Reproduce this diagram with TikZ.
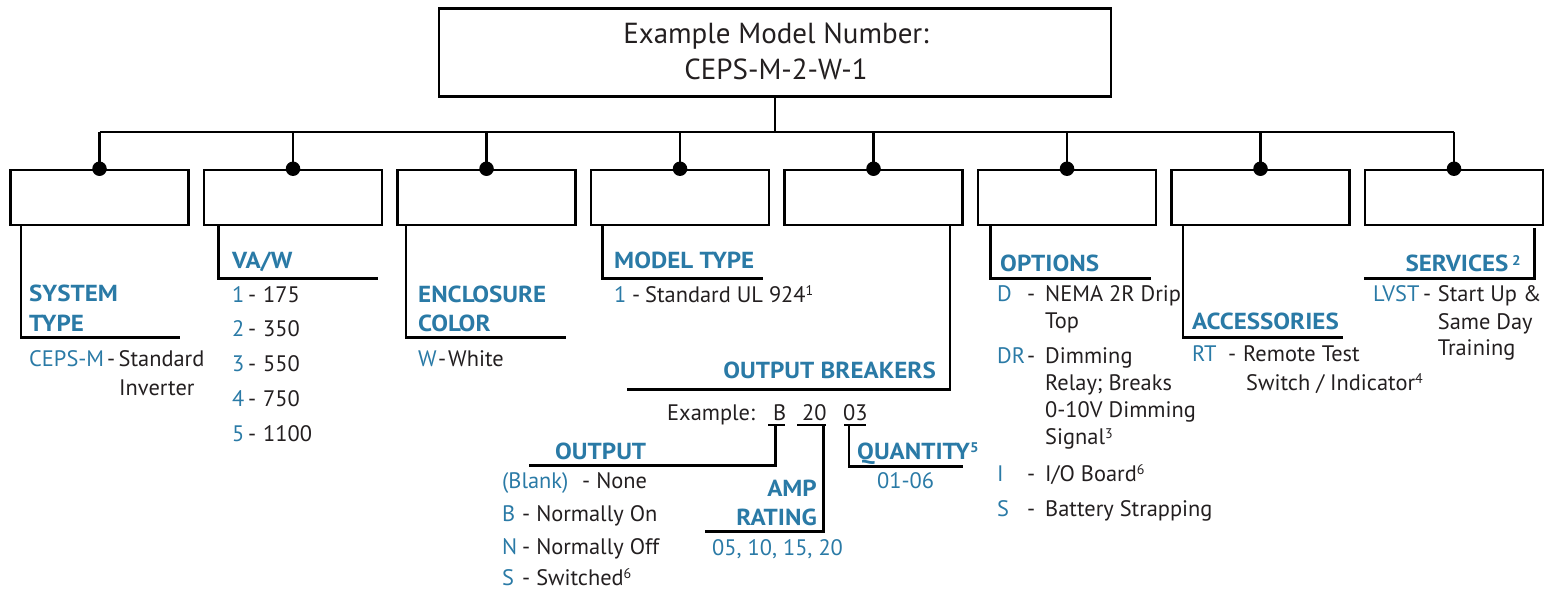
\documentclass[tikz,border=0pt]{standalone}
\usepackage{fontspec}
\setmainfont{PT Sans}
\newfontfamily\headfont[FakeStretch=1.08]{PT Sans}
\definecolor{hdblue}{HTML}{2A7AA6}
\definecolor{txdark}{HTML}{231F20}
\newcommand\bodysz{\fontsize{22.4}{27}\selectfont}
\newcommand\headsz{\fontsize{23.2}{27}\selectfont}
\newcommand\topsz{\fontsize{29}{35}\selectfont}
\newcommand\supr[1]{\raisebox{6.5pt}{\fontsize{14}{14}\selectfont #1}}
\tikzset{
  box/.style={draw=black, line width=2.5pt, minimum width=178pt, minimum height=55pt, inner sep=0pt},
  topbox/.style={draw=black, line width=2.5pt, minimum width=672pt, minimum height=88pt, inner sep=0pt},
  wire/.style={draw=black, line width=2.5pt},
  dot/.style={circle, fill=black, minimum size=14.5pt, inner sep=0pt},
  hd/.style={anchor=base west, inner sep=0pt, text=hdblue, font=\headfont\headsz\bfseries},
  hde/.style={hd, anchor=base east},
  cd/.style={anchor=base west, inner sep=0pt, text=hdblue, font=\bodysz},
  tx/.style={anchor=base west, inner sep=0pt, text=txdark, font=\bodysz},
  toptx/.style={anchor=base, inner sep=0pt, text=txdark, font=\topsz}
}
\begin{document}
\begin{tikzpicture}[x=1pt,y=-1pt]
\useasboundingbox (0,0) rectangle (1549,593);
% top box
\node[topbox] (top) at (775,52.5) {};
\node[toptx] (topl1) at (776,43.3) {Example Model Number:};
\node[toptx] (topl2) at (776,79.3) {CEPS-M-2-W-1};
% small boxes
\node[box] (b1) at (99.5,197.5) {};
\node[box] (b2) at (293,197.5) {};
\node[box] (b3) at (486.5,197.5) {};
\node[box] (b4) at (680,197.5) {};
\node[box] (b5) at (873.5,197.5) {};
\node[box] (b6) at (1067,197.5) {};
\node[box] (b7) at (1260.5,197.5) {};
\node[box] (b8) at (1454,197.5) {};
\coordinate (busy) at (0,132);
% bus
\draw[wire] (top.south) -- (top.south |- busy);
\draw[wire] (b1.north |- busy) -- (b8.north |- busy);
\foreach \b in {b1,b2,b3,b4,b5,b6,b7,b8}{
  \draw[wire] (\b.north |- busy) -- (\b.north);
  \node[dot] (d\b) at (\b.north) {};
}
% leaders
\draw[wire] ([xshift=11.5pt]b1.south west) |- (180,337.7);
\draw[wire] ([xshift=15.5pt]b2.south west) |- (378,278.3);
\draw[wire] ([xshift=9.5pt]b3.south west) |- (566,337.7);
\draw[wire] ([xshift=12.5pt]b4.south west) |- (763,278.3);
\draw[wire] ([xshift=-14pt]b5.south east) |- (627,389.3);
\draw[wire] ([xshift=13.5pt]b6.south west) |- (1151,278.3);
\draw[wire] ([xshift=12.5pt]b7.south west) |- (1343,337.7);
\draw[wire] ([xshift=-10pt,yshift=-2pt]b8.south east) |- (1364,278.3);

% headings
\node[hd] (h1a) at (29,301.7) {SYSTEM};
\node[hd] (h1b) at (29,331.7) {TYPE};
\node[hd] (h2) at (232,268.3) {VA/W};
\node[hd] (h3a) at (418,302.3) {ENCLOSURE};
\node[hd] (h3b) at (418,331.7) {COLOR};
\node[hd] (h4) at (614,269) {MODEL TYPE};
\node[hde] (h5) at (936,378.3) {OUTPUT BREAKERS};
\node[hd] (h6) at (1000,271.7) {OPTIONS};
\node[hd] (h7) at (1192,330) {ACCESSORIES};
\node[hde] (h8) at (1521,271.7) {SERVICES\,\supr{2}};

% system type
\node[cd] (s1c) at (29,366.7) {CEPS-M};
\node[tx] (s1d) at (107,366.7) {-};
\node[tx] (s1t) at (118.5,366.7) {Standard};
\node[tx] (s1t2) at (119,395) {Inverter};

% VA/W
\foreach \c/\v/\y in {1/175/302.3, 2/350/336.7, 3/550/371.7, 4/750/406.7, 5/1100/441.7}{
  \node[cd] (va\c) at (232,\y) {\c};
  \node[tx] (vad\c) at (248,\y) {-};
  \node[tx] (vav\c) at (263,\y) {\v};
}

% enclosure
\node[cd] (e1c) at (418,366.7) {W};
\node[tx] (e1d) at (438,366.7) {-};
\node[tx] (e1t) at (448,366.7) {White};

% model type
\node[cd] (m1c) at (614,302.3) {1};
\node[tx] (m1d) at (632,302.3) {-};
\node[tx] (m1t) at (645,302.3) {Standard UL 924\supr{1}};

% output breakers example
\node[tx] (ex) at (667,420) {Example:};
\node[tx] (exb) at (773,420) {B};
\node[tx] (ex20) at (802,420) {20};
\node[tx] (ex03) at (843,420) {03};
\coordinate (ulb1) at (768,425);  \coordinate (ulb2) at (785,425);
\coordinate (ula1) at (797,425);  \coordinate (ula2) at (826,425);
\coordinate (ulq1) at (844,425);  \coordinate (ulq2) at (866,425);
\draw[wire] (ulb1) -- (ulb2);
\draw[wire] (ula1) -- (ula2);
\draw[wire] (ulq1) -- (ulq2);
\draw[wire] (775.7,425) |- (529,465.7);
\draw[wire] (823.3,425) |- (705,531.7);
\draw[wire] (849,425) |- (963,466.7);

\node[hd] (ho) at (555,459) {OUTPUT};
\node[hde] (ha1) at (817,496.7) {AMP};
\node[hde] (ha2) at (817,525) {RATING};
\node[hd] (hq) at (857,459) {QUANTITY\supr{5}};
\node[cd] (ar) at (712,555) {05, 10, 15, 20};
\node[cd] (qv) at (877,488.3) {01-06};

\node[cd] (o1c) at (502,488.3) {(Blank)};
\node[tx] (o1t) at (582,488.3) {- None};
\node[cd] (o2c) at (502,521.7) {B};
\node[tx] (o2t) at (522,521.7) {- Normally On};
\node[cd] (o3c) at (502,554) {N};
\node[tx] (o3t) at (522,554) {- Normally Off};
\node[cd] (o4c) at (502,585) {S};
\node[tx] (o4t) at (522,585) {- Switched\supr{6}};

% options
\node[cd] (p1c) at (997,301.7) {D};
\node[tx] (p1d) at (1027,301.7) {-};
\node[tx] (p1t) at (1045,301.7) {NEMA 2R Drip};
\node[tx] (p1t2) at (1045,328.3) {Top};
\node[cd] (p2c) at (997,363.3) {DR};
\node[tx] (p2d) at (1027,363.3) {-};
\node[tx] (p2t) at (1045,363.3) {Dimming};
\node[tx] (p2t2) at (1045,390.3) {Relay; Breaks};
\node[tx] (p2t3) at (1045,417.3) {0-10V Dimming};
\node[tx] (p2t4) at (1045,444.5) {Signal\supr{3}};
\node[cd] (p3c) at (997,481) {I};
\node[tx] (p3d) at (1027,481) {-};
\node[tx] (p3t) at (1045,481) {I/O Board\supr{6}};
\node[cd] (p4c) at (997,516.7) {S};
\node[tx] (p4d) at (1027,516.7) {-};
\node[tx] (p4t) at (1045,516.7) {Battery Strapping};

% accessories
\node[cd] (a1c) at (1192,361.7) {RT};
\node[tx] (a1d) at (1228,361.7) {-};
\node[tx] (a1t) at (1243,361.7) {Remote Test};
\node[tx] (a1t2) at (1246,390) {Switch / Indicator\supr{4}};

% services
\node[cd] (v1c) at (1373,301.7) {LVST};
\node[tx] (v1d) at (1423,301.7) {-};
\node[tx] (v1t) at (1437.7,301.7) {Start Up \&};
\node[tx] (v1t2) at (1437.7,330) {Same Day};
\node[tx] (v1t3) at (1437.7,355.5) {Training};
\end{tikzpicture}
\end{document}
